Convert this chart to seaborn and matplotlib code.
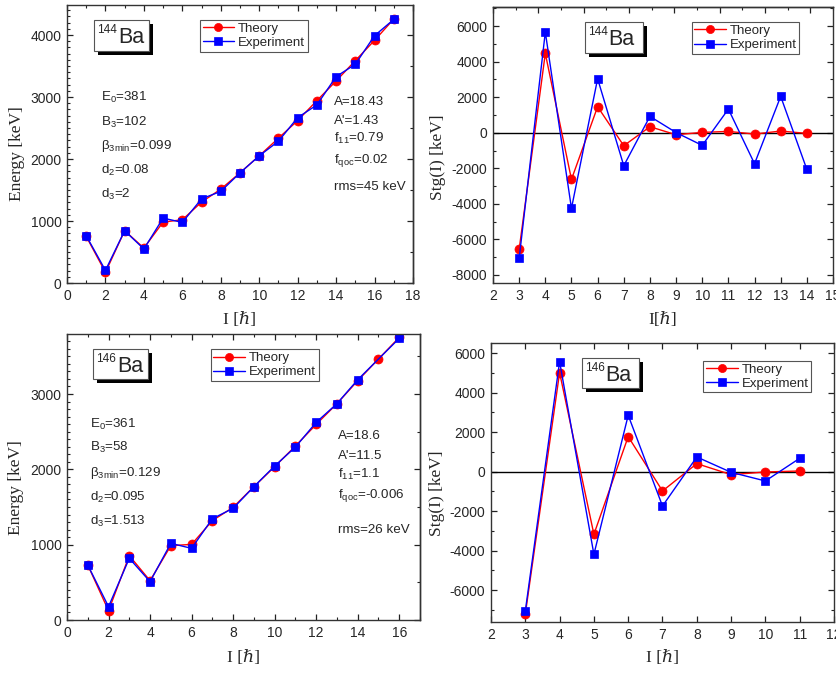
import numpy as np
import matplotlib
matplotlib.use("Agg")
import matplotlib.pyplot as plt
from matplotlib.ticker import MultipleLocator
from matplotlib.patches import Rectangle
import seaborn as sns

# ---------------- data ----------------
I_144_E = list(range(1, 18))
th_144_E = [752, 172, 843, 564, 983, 1020, 1305, 1514, 1777, 2051, 2336, 2620, 2942, 3259, 3587, 3914, 4258]
ex_144_E = [762, 204, 843, 548, 1047, 977, 1358, 1477, 1777, 2051, 2287, 2668, 2872, 3329, 3528, 3989, 4252]

I_144_S = list(range(3, 15))
th_144_S = [-6560, 4460, -2624, 1462, -731, 337, -112, 19, 75, -75, 94, -37]
ex_144_S = [-7065, 5660, -4254, 3036, -1855, 918, 10, -712, 1331, -1743, 2043, -2061]

I_146_E = list(range(1, 17))
th_146_E = [730, 124, 854, 522, 987, 1004, 1319, 1496, 1770, 2035, 2310, 2597, 2872, 3177, 3465, 3752]
ex_146_E = [730, 177, 819, 509, 1018, 951, 1345, 1482, 1770, 2044, 2296, 2624, 2872, 3190, np.nan, 3739]

I_146_S = list(range(3, 12))
th_146_S = [-7217, 5020, -3177, 1775, -980, 406, -152, -17, 34]
ex_146_S = [-7065, 5577, -4191, 2856, -1741, 744, -34, -473, 676]

params_144_left = ["E$_0$=381", "B$_3$=102", "β$_{\\mathrm{3min}}$=0.099", "d$_2$=0.08", "d$_3$=2"]
params_144_right = ["A=18.43", "A'=1.43", "f$_{\\mathrm{11}}$=0.79", "f$_{\\mathrm{qoc}}$=0.02", "rms=45 keV"]
params_146_left = ["E$_0$=361", "B$_3$=58", "β$_{\\mathrm{3min}}$=0.129", "d$_2$=0.095", "d$_3$=1.513"]
params_146_right = ["A=18.6", "A'=11.5", "f$_{\\mathrm{11}}$=1.1", "f$_{\\mathrm{qoc}}$=-0.006", "rms=26 keV"]

# ---------------- style ----------------
sns.set_style("ticks")
plt.rcParams['font.family'] = ['Liberation Sans', 'DejaVu Sans']
plt.rcParams['mathtext.fontset'] = 'custom'
plt.rcParams['mathtext.rm'] = 'Liberation Sans'
plt.rcParams['mathtext.it'] = 'Liberation Sans:italic'
plt.rcParams['mathtext.bf'] = 'Liberation Sans:bold'
plt.rcParams['axes.unicode_minus'] = False

SERIF = ['Liberation Serif', 'DejaVu Serif']
W, H = 837, 673
fig = plt.figure(figsize=(W / 100, H / 100), dpi=100)


def px_axes(l, r, t, b):
    return fig.add_axes([l / W, 1 - b / H, (r - l) / W, (b - t) / H])


def style_axes(ax, xmaj, xmin, ymaj, ymin):
    ax.xaxis.set_major_locator(MultipleLocator(xmaj))
    if xmin:
        ax.xaxis.set_minor_locator(MultipleLocator(xmin))
    ax.yaxis.set_major_locator(MultipleLocator(ymaj))
    if ymin:
        ax.yaxis.set_minor_locator(MultipleLocator(ymin))
    ax.tick_params(which='major', direction='in', length=4, width=0.9, labelsize=10, pad=4,
                   top=True, bottom=True, left=True, color='#222222')
    ax.tick_params(which='minor', direction='in', length=2.2, width=0.8, top=True, bottom=True,
                   left=True, color='#222222')
    for s in ax.spines.values():
        s.set_linewidth(1.0)
        s.set_color('#333333')
        s.set_visible(True)


def draw_series(ax, I, th, ex):
    sns.lineplot(x=I, y=th, ax=ax, color='red', marker='o', markersize=6.5, markeredgecolor='red',
                 markeredgewidth=0.5, linewidth=1, label='Theory')
    sns.lineplot(x=I, y=ex, ax=ax, color='blue', marker='s', markersize=6, markeredgecolor='blue',
                 markeredgewidth=0.5, linewidth=1, label='Experiment')


def legend(ax, x, y):
    lg = ax.legend(loc='upper left', bbox_to_anchor=(x, y), bbox_transform=ax.transAxes,
                   borderaxespad=0, fontsize=9.5, handlelength=2.4, handletextpad=0.3,
                   labelspacing=0.15, borderpad=0.2, frameon=True, fancybox=False,
                   markerscale=0.9)
    fr = lg.get_frame()
    fr.set_edgecolor('#555555')
    fr.set_linewidth(0.8)
    fr.set_alpha(1)


def nucleus_box(ax, x0, x1, y0, y1, mass):
    pos = ax.get_position()
    axw, axh = pos.width * W, pos.height * H
    dx, dy = 4 / axw, 4 / axh
    ax.add_patch(Rectangle((x0 + dx, y0 - dy), x1 - x0, y1 - y0, transform=ax.transAxes,
                           facecolor='black', edgecolor='black', lw=0, zorder=5))
    ax.add_patch(Rectangle((x0, y0), x1 - x0, y1 - y0, transform=ax.transAxes,
                           facecolor='white', edgecolor='#555555', lw=0.8, zorder=6))
    xb = x0 + 23.5 / axw
    ax.text(xb, y1 - 23 / axh, "Ba", transform=ax.transAxes, ha='left', va='baseline',
            fontsize=15.5, zorder=7)
    ax.text(xb - 0.5 / axw, y1 - 13 / axh, mass, transform=ax.transAxes, ha='right',
            va='baseline', fontsize=8.5, zorder=7)


def param_text(ax, x, ys, texts):
    for yy, t in zip(ys, texts):
        ax.text(x, yy, t, transform=ax.transAxes, ha='left', va='center', fontsize=9.6)


def labels(ax, xl, yl, xly, ylx, yly):
    ax.set_xlabel(xl, family=SERIF, fontsize=12.5)
    ax.set_ylabel(yl, family=SERIF, fontsize=12.5)
    ax.xaxis.label.set_va('center')
    ax.yaxis.label.set_va('center')
    ax.xaxis.set_label_coords(0.5, xly)
    ax.yaxis.set_label_coords(ylx, yly)


def right_ticks(ax, maj, mnr):
    sec = ax.secondary_yaxis('right')
    sec.yaxis.set_major_locator(MultipleLocator(maj))
    sec.yaxis.set_minor_locator(MultipleLocator(mnr))
    sec.tick_params(which='both', direction='in', labelright=False, color='#222222')
    sec.tick_params(which='major', length=4, width=0.9)
    sec.tick_params(which='minor', length=2.2, width=0.8)
    sec.spines['right'].set_linewidth(1.0)
    sec.spines['right'].set_color('#333333')


# ---------------- top left: 144Ba energy ----------------
ax1 = px_axes(67, 413, 5, 283)
draw_series(ax1, I_144_E, th_144_E, ex_144_E)
ax1.set_xlim(0, 18)
ax1.set_ylim(0, 4484)
style_axes(ax1, 2, 1, 1000, 100)
right_ticks(ax1, 1000, 500)
legend(ax1, 0.384, 0.946)
nucleus_box(ax1, 0.079, 0.238, 0.835, 0.946, "144")
param_text(ax1, 0.098, [0.667, 0.579, 0.493, 0.406, 0.320], params_144_left)
param_text(ax1, 0.772, [0.652, 0.584, 0.520, 0.440, 0.344], params_144_right)
labels(ax1, "I [ℏ]", "Energy [keV]", -0.133, -0.1445, 0.464)

# ---------------- top right: 144Ba staggering ----------------
ax2 = px_axes(493, 833, 7, 283)
ax2.axhline(0, color='black', lw=1, zorder=1)
draw_series(ax2, I_144_S, th_144_S, ex_144_S)
ax2.set_xlim(2, 15)
ax2.set_ylim(-8450, 7070)
style_axes(ax2, 1, None, 2000, 1000)
ax2.tick_params(which='both', top=False, right=True)
secx = ax2.secondary_xaxis('top', functions=(lambda x: (x - 2) * 15 / 13, lambda t: t * 13 / 15 + 2))
secx.xaxis.set_major_locator(MultipleLocator(2))
secx.xaxis.set_minor_locator(MultipleLocator(1))
secx.tick_params(which='both', direction='in', labeltop=False, color='#222222')
secx.tick_params(which='major', length=4, width=0.9)
secx.tick_params(which='minor', length=2.2, width=0.8)
secx.spines['top'].set_linewidth(1.0)
secx.spines['top'].set_color('#333333')
legend(ax2, 0.584, 0.945)
nucleus_box(ax2, 0.2706, 0.440, 0.834, 0.947, "144")
labels(ax2, "I[ℏ]", "Stg(I) [keV]", -0.134, -0.162, 0.457)

# ---------------- bottom left: 146Ba energy ----------------
ax3 = px_axes(67, 420, 334, 620)
draw_series(ax3, I_146_E, th_146_E, ex_146_E)
ax3.set_xlim(0, 17)
ax3.set_ylim(0, 3797)
style_axes(ax3, 2, 1, 1000, 100)
right_ticks(ax3, 1000, 500)
legend(ax3, 0.407, 0.9465)
nucleus_box(ax3, 0.0745, 0.2286, 0.8427, 0.9465, "146")
param_text(ax3, 0.065, [0.685, 0.6025, 0.515, 0.4276, 0.346], params_146_left)
param_text(ax3, 0.7686, [0.6445, 0.5734, 0.5094, 0.437, 0.3147], params_146_right)
labels(ax3, "I [ℏ]", "Energy [keV]", -0.133, -0.1445, 0.4615)

# ---------------- bottom right: 146Ba staggering ----------------
ax4 = px_axes(491, 834, 343, 622)
ax4.axhline(0, color='black', lw=1, zorder=1)
draw_series(ax4, I_146_S, th_146_S, ex_146_S)
ax4.set_xlim(2, 12)
ax4.set_ylim(-7620, 6520)
style_axes(ax4, 1, None, 2000, 1000)
ax4.tick_params(which='both', right=True)
legend(ax4, 0.619, 0.9366)
nucleus_box(ax4, 0.2644, 0.4315, 0.8376, 0.947, "146")
labels(ax4, "I [ℏ]", "Stg(I) [keV]", -0.129, -0.1566, 0.4624)

fig.savefig("out.png", dpi=100)
